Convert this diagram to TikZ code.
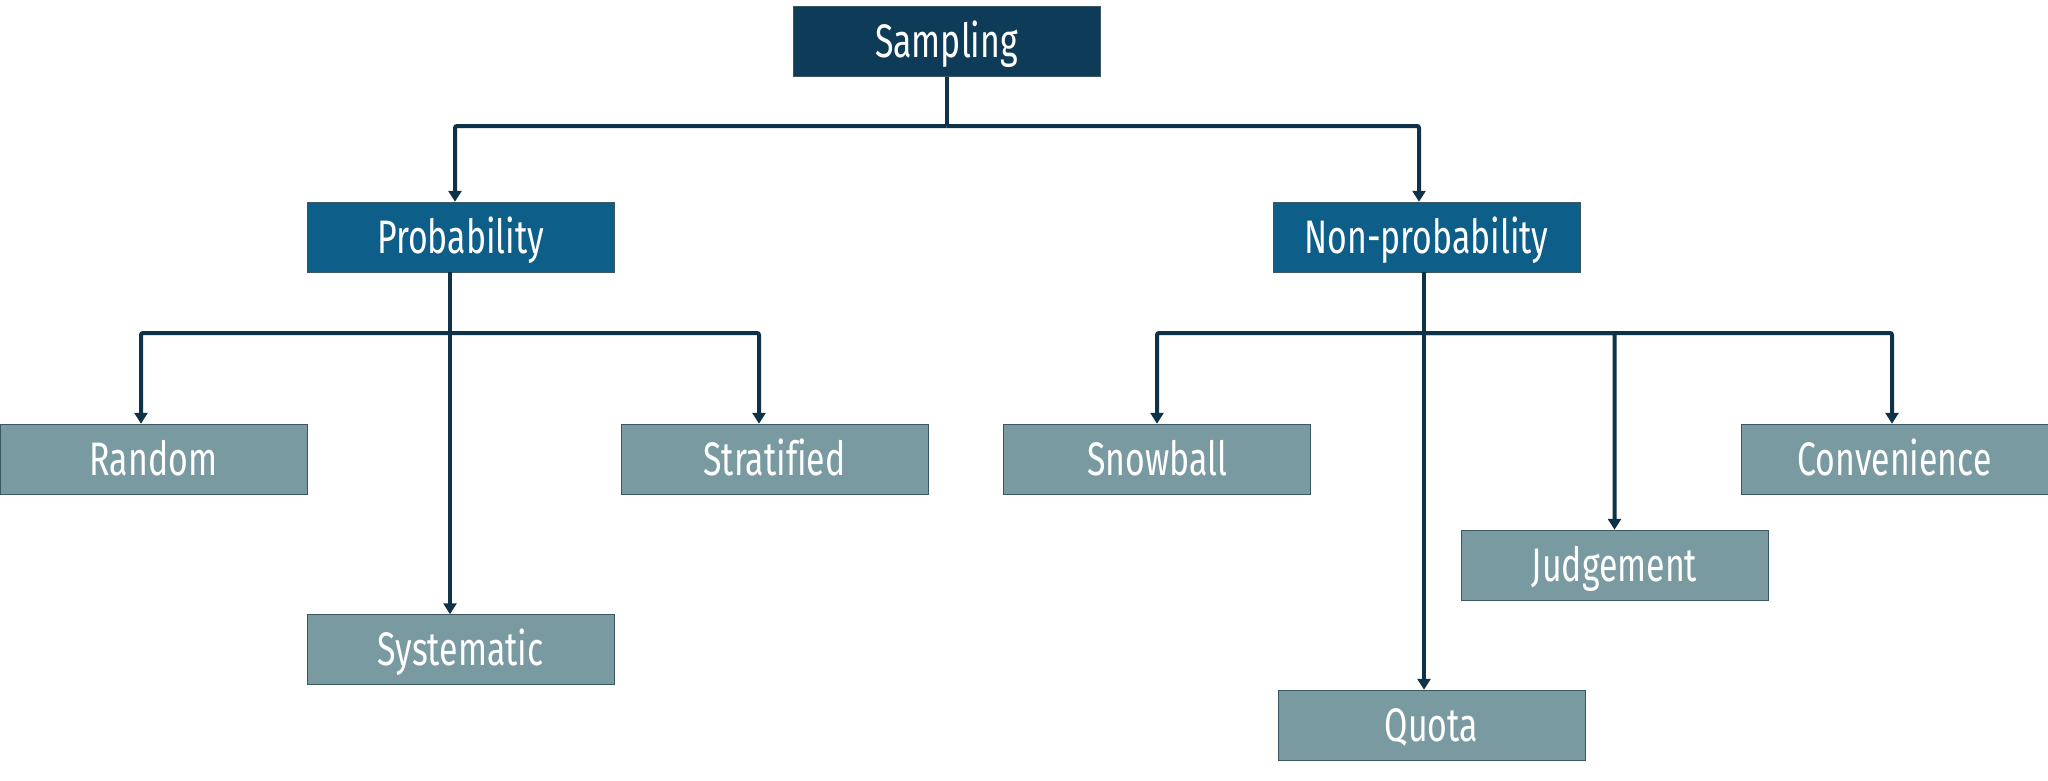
\documentclass[tikz,border=0pt]{standalone}
\usepackage{fontspec}
\setmainfont[FakeStretch=0.72,Ligatures=NoCommon]{Fira Sans}
\usetikzlibrary{arrows.meta}
\definecolor{cdark}{HTML}{0E3C58}
\definecolor{cprob}{HTML}{0D5E88}
\definecolor{cgray}{HTML}{7A9AA2}
\definecolor{cline}{HTML}{0E3348}
\definecolor{cedge}{HTML}{3A5762}
\tikzset{
  box/.style={rectangle, minimum width=307pt, minimum height=70pt, inner sep=0pt,
    text height=32pt, text depth=0pt,
    text=white, font=\fontsize{47pt}{50pt}\selectfont, draw=cedge, line width=0.5pt},
  rootbox/.style={box, fill=cdark},
  midbox/.style={box, fill=cprob},
  leafbox/.style={box, fill=cgray},
  ln/.style={draw=cline, line width=4pt},
  arr/.style={ln, -{Triangle[width=13pt,length=11pt]}, rounded corners=2pt},
}
\begin{document}
\begin{tikzpicture}[x=1pt,y=-1pt]
\useasboundingbox (0,0) rectangle (2048,780);
\node[rootbox] (samp) at (946.5,41.5) {Sampling};
\node[midbox] (prob) at (460.5,237) {Probability};
\node[midbox] (nonp) at (1426.5,237) {Non-probability};
\node[leafbox] (rand) at (153.5,459) {Random};
\node[leafbox] (strat) at (774.5,459) {Stratified};
\node[leafbox] (syst) at (460.5,649.5) {Systematic};
\node[leafbox] (snow) at (1157,459) {Snowball};
\node[leafbox] (conv) at (1894.5,459) {Convenience};
\node[leafbox] (judg) at (1614.5,565) {Judgement};
\node[leafbox] (quota) at (1431.5,725) {Quota};
% top level
\coordinate (jTop) at (946.5,126);
\draw[ln] (samp.south) -- (jTop);
\draw[arr] (jTop) -| ([xshift=-5.5pt]prob.north);
\draw[arr] (jTop) -| ([xshift=-7.5pt]nonp.north);
% probability branch
\coordinate (jL) at (450,333);
\draw[arr] ([xshift=-10.5pt]prob.south) -- ([xshift=-10.5pt]syst.north);
\draw[arr] (jL) -| ([xshift=-12.5pt]rand.north);
\draw[arr] (jL) -| ([xshift=-15.5pt]strat.north);
% non-probability branch
\coordinate (jR) at (1424,333);
\draw[arr] ([xshift=-2.5pt]nonp.south) -- ([xshift=-7.5pt]quota.north);
\draw[arr] (jR) -| (snow.north);
\draw[arr] (jR) -| (judg.north);
\draw[arr] (jR) -| ([xshift=-2.5pt]conv.north);
\end{tikzpicture}
\end{document}
